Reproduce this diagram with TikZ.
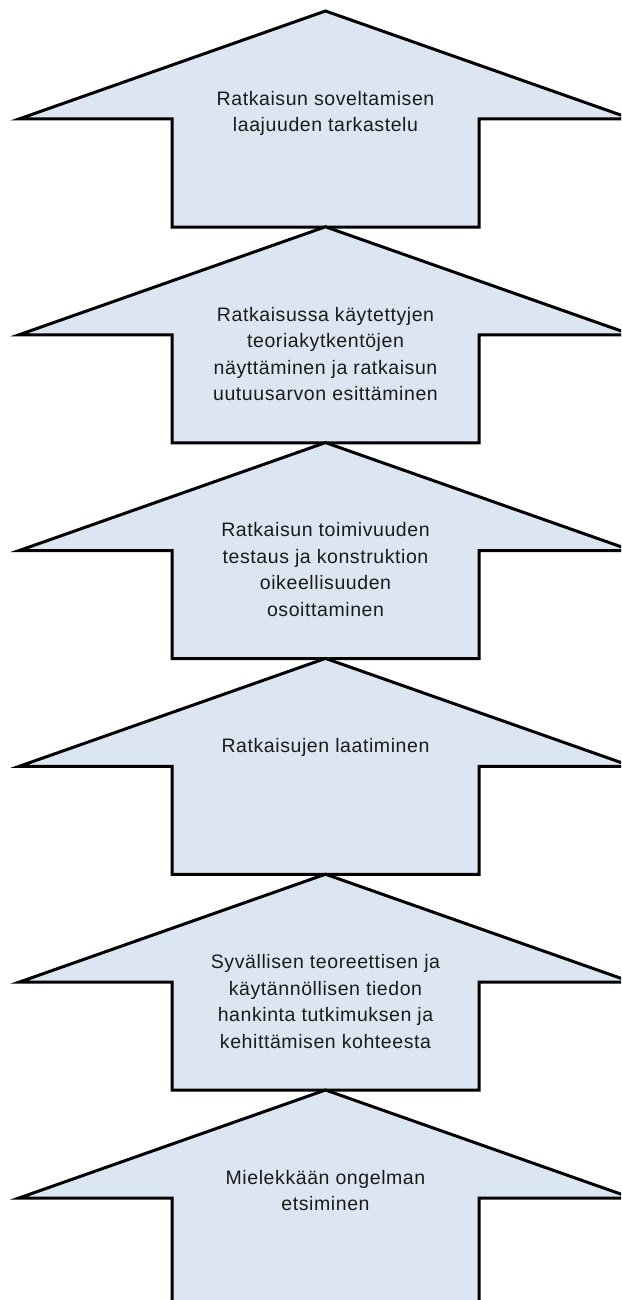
\documentclass[tikz,border=0pt]{standalone}
\usepackage{fontspec}
\setmainfont[LetterSpace=3]{Liberation Sans}
\usetikzlibrary{positioning}
\definecolor{arrowfill}{HTML}{DCE6F2}
\definecolor{labeltext}{HTML}{1A1A1A}

\begin{document}
\begin{tikzpicture}[x=1pt, y=-1pt,
    stepshape/.style={draw=black, line width=3pt, fill=arrowfill, line join=miter},
    steplabel/.style={font=\fontsize{19.5}{26.5}\selectfont, text=labeltext, align=center, inner sep=0pt, anchor=north}]
    \useasboundingbox (0,0) rectangle (621,1300);
    \clip (0,0) rectangle (621,1300);
    % stacked up-arrows, listed from the top one down
    \foreach \i/\txt in {0/{Ratkaisun soveltamisen\\laajuuden tarkastelu},
                         1/{Ratkaisussa käytettyjen\\teoriakytkentöjen\\näyttäminen ja ratkaisun\\uutuusarvon esittäminen},
                         2/{Ratkaisun toimivuuden\\testaus ja konstruktion\\oikeellisuuden\\osoittaminen},
                         3/{Ratkaisujen laatiminen},
                         4/{Syvällisen teoreettisen ja\\käytännöllisen tiedon\\hankinta tutkimuksen ja\\kehittämisen kohteesta},
                         5/{Mielekkään ongelman\\etsiminen}} {
        \pgfmathsetmacro\ytop{11+215.8*\i}
        \draw[stepshape] (325.5,\ytop) -- (632,\ytop+108) -- (479,\ytop+108) -- (479,\ytop+216)
            -- (172,\ytop+216) -- (172,\ytop+108) -- (19,\ytop+108) -- cycle;
        \node[steplabel] (step\i) at (325.5,\ytop+80) {\txt};
    }
\end{tikzpicture}
\end{document}
